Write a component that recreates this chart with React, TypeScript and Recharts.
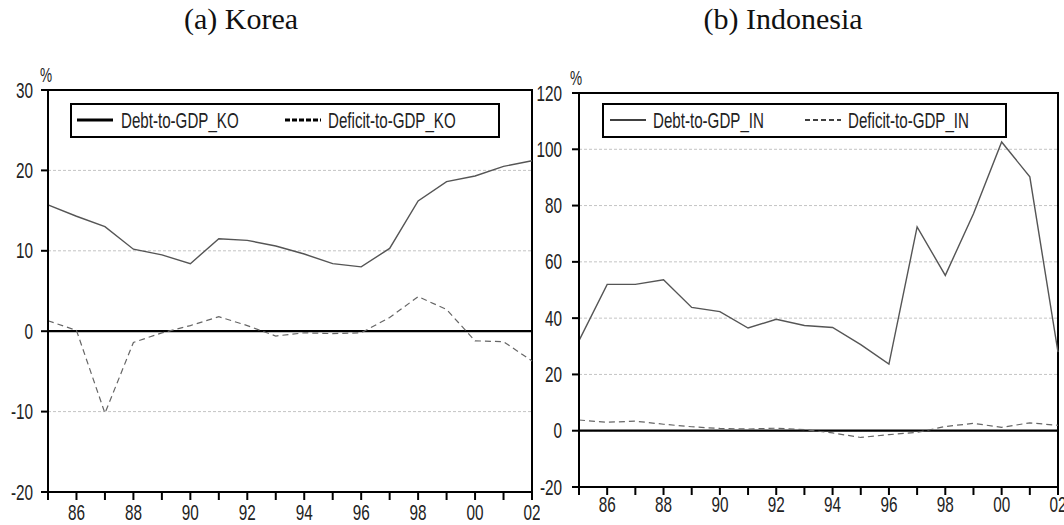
import React from "react";
import {
  LineChart,
  Line,
  XAxis,
  YAxis,
  CartesianGrid,
  ReferenceLine,
  ReferenceArea,
  Legend,
} from "recharts";

const years = [1985, 1986, 1987, 1988, 1989, 1990, 1991, 1992, 1993, 1994, 1995, 1996, 1997, 1998, 1999, 2000, 2001, 2002];

const koDebt = [15.7, 14.3, 13.0, 10.2, 9.5, 8.4, 11.5, 11.3, 10.6, 9.6, 8.4, 8.0, 10.3, 16.2, 18.6, 19.3, 20.5, 21.2];
const koDeficit = [1.3, 0.1, -10.2, -1.4, -0.2, 0.7, 1.8, 0.7, -0.6, -0.2, -0.3, -0.2, 1.7, 4.3, 2.7, -1.2, -1.3, -3.7];

const inDebt = [32.0, 52.0, 52.0, 53.6, 43.8, 42.3, 36.5, 39.6, 37.4, 36.7, 30.6, 23.7, 72.4, 55.2, 77.1, 102.6, 90.2, 27.9];
const inDeficit = [3.8, 3.0, 3.4, 2.3, 1.4, 0.8, 0.6, 0.9, 0.4, -0.8, -2.4, -1.4, -0.6, 1.5, 2.6, 1.2, 2.8, 1.9];

const koTicks = [-20, -10, 0, 10, 20, 30];
const inTicks = [-20, 0, 20, 40, 60, 80, 100, 120];

const koData = years.map((year, i) => ({ year, debt: koDebt[i], deficit: koDeficit[i] }));
const inData = years.map((year, i) => ({ year, debt: inDebt[i], deficit: inDeficit[i] }));

// Arial-like face squeezed to look like the narrow font in the original
const FONT = '"Liberation Sans", Arial, sans-serif';

const XTick = ({ x, y, payload }: any) => {
  const v = payload.value;
  if (v % 2 !== 0) return null;
  return (
    <text
      transform={`translate(${x},${y + 14}) scale(0.85,1.2)`}
      textAnchor="middle"
      fontFamily={FONT}
      fontSize={18}
      fill="#222"
    >
      {String(v).slice(2)}
    </text>
  );
};

const YTick = ({ x, y, payload }: any) => (
  <text
    transform={`translate(${x},${y + 7.5}) scale(0.85,1.2)`}
    textAnchor="end"
    fontFamily={FONT}
    fontSize={18}
    fill="#222"
  >
    {payload.value}
  </text>
);

const PercentLabel = ({ viewBox, dx }: any) => (
  <text
    transform={`translate(${viewBox.x + viewBox.width + dx},${viewBox.y - 8}) scale(0.85,1.25)`}
    textAnchor="middle"
    fontFamily={FONT}
    fontSize={16}
    fill="#222"
  >
    %
  </text>
);

function LegendBox({ payload, bold, pos }: any) {
  return (
    <div
      style={{
        position: "relative",
        border: bold ? "2.5px solid #000" : "2px solid #000",
        boxSizing: "border-box",
        height: 35,
        fontFamily: FONT,
        fontSize: 18,
        color: "#222",
      }}
    >
      {(payload || []).map((entry: any, i: number) => (
        <React.Fragment key={i}>
          <svg width={36} height={6} style={{ position: "absolute", left: pos[i][0], top: 12 }}>
            <line
              x1={0}
              y1={3}
              x2={36}
              y2={3}
              stroke="#000"
              strokeWidth={bold ? 3 : 1.3}
              strokeDasharray={i === 1 ? (bold ? "5 2" : "5 3") : undefined}
            />
          </svg>
          <span
            style={{
              position: "absolute",
              left: pos[i][1],
              top: 4,
              lineHeight: "22px",
              whiteSpace: "nowrap",
              transform: "scale(0.84,1.25)",
              transformOrigin: "left center",
            }}
          >
            {entry.value}
          </span>
        </React.Fragment>
      ))}
    </div>
  );
}

function Panel({ data, left, width, margin, yDomain, yTicks, yWidth, xHeight, xMargin, yMargin, debtName, deficitName, bold, legendStyle, legendPos, pctDx }: any) {
  return (
    <div style={{ position: "absolute", left, top: 0 }}>
      <LineChart width={width} height={525} data={data} margin={margin}>
        <CartesianGrid vertical={false} stroke="#c4c4c4" strokeDasharray="3 2" />
        <XAxis
          dataKey="year"
          type="number"
          domain={[1985, 2002]}
          ticks={years}
          interval={0}
          height={xHeight}
          tickSize={8}
          tickMargin={xMargin}
          axisLine={{ stroke: "#000", strokeWidth: 2 }}
          tickLine={{ stroke: "#000", strokeWidth: 2 }}
          tick={<XTick />}
        />
        <YAxis
          type="number"
          domain={yDomain}
          ticks={yTicks}
          interval={0}
          width={yWidth}
          tickSize={7}
          tickMargin={yMargin}
          axisLine={{ stroke: "#000", strokeWidth: 2 }}
          tickLine={{ stroke: "#000", strokeWidth: 2 }}
          tick={<YTick />}
          label={{ value: "%", content: (p: any) => <PercentLabel {...p} dx={pctDx} /> }}
        />
        <ReferenceArea x1={1985} x2={2002} y1={yDomain[0]} y2={yDomain[1]} fill="none" stroke="#000" strokeWidth={2} />
        <ReferenceLine y={0} stroke="#000" strokeWidth={2.2} />
        <Line
          dataKey="debt"
          name={debtName}
          stroke="#555"
          strokeWidth={1.4}
          dot={false}
          isAnimationActive={false}
        />
        <Line
          dataKey="deficit"
          name={deficitName}
          stroke="#666"
          strokeWidth={1.2}
          strokeDasharray="6 4"
          dot={false}
          isAnimationActive={false}
        />
        <Legend
          layout="horizontal"
          verticalAlign="middle"
          align="center"
          wrapperStyle={{ ...legendStyle, position: "absolute" }}
          content={(props: any) => <LegendBox payload={props.payload} bold={bold} pos={legendPos} />}
        />
      </LineChart>
    </div>
  );
}

const titleStyle: React.CSSProperties = {
  position: "absolute",
  top: 2,
  width: 240,
  textAlign: "center",
  fontFamily: '"Liberation Serif", serif',
  fontSize: 30,
  color: "#111",
};

export default function App() {
  return (
    <div style={{ position: "absolute", left: 0, top: 0, width: 1064, height: 525, background: "#fff", overflow: "hidden" }}>
      <div style={{ ...titleStyle, left: 121 }}>(a) Korea</div>
      <div style={{ ...titleStyle, left: 663 }}>(b) Indonesia</div>
      <Panel
        data={koData}
        left={0}
        width={540}
        margin={{ top: 90, right: 8, bottom: 0, left: 0 }}
        yDomain={[-20, 30]}
        yTicks={koTicks}
        yWidth={48}
        xHeight={33}
        xMargin={6}
        yMargin={8}
        debtName="Debt-to-GDP_KO"
        deficitName="Deficit-to-GDP_KO"
        bold
        pctDx={-2}
        legendStyle={{ left: 70, top: 103, width: 430 }}
        legendPos={[[5, 49], [213, 256]]}
      />
      <Panel
        data={inData}
        left={500}
        width={564}
        margin={{ top: 93, right: 6, bottom: 0, left: 0 }}
        yDomain={[-20, 120]}
        yTicks={inTicks}
        yWidth={79}
        xHeight={38}
        xMargin={3}
        yMargin={10}
        debtName="Debt-to-GDP_IN"
        deficitName="Deficit-to-GDP_IN"
        bold={false}
        pctDx={-3}
        legendStyle={{ left: 102, top: 103, width: 405 }}
        legendPos={[[6, 49], [201, 244]]}
      />
    </div>
  );
}
